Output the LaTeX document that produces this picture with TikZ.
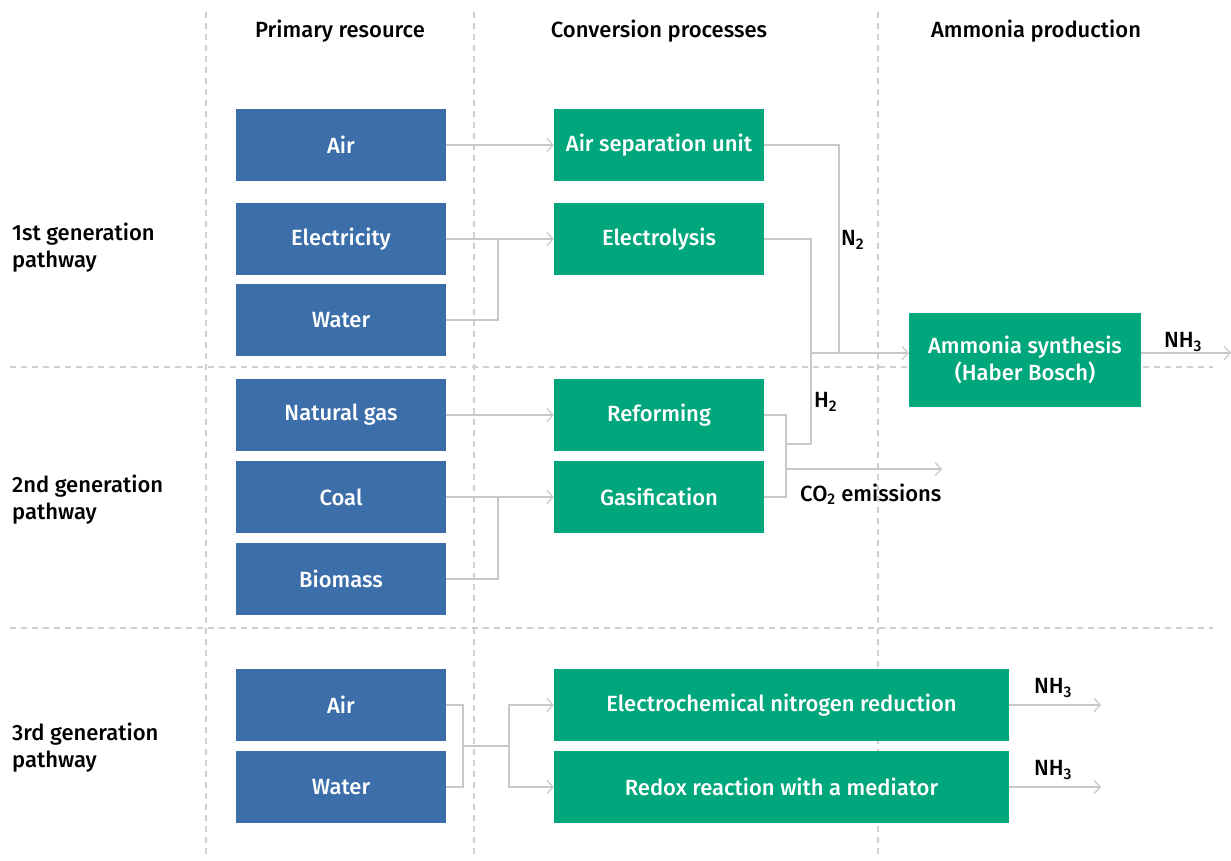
\documentclass[tikz,border=0pt]{standalone}
\usepackage{fontspec}
\setmainfont{Fira Sans}[UprightFont=* Medium]
\usetikzlibrary{arrows.meta}
\definecolor{resblue}{HTML}{3C6EAA}
\definecolor{procgreen}{HTML}{00A67C}
\definecolor{flowgray}{HTML}{C8C8C8}
\definecolor{sepgray}{HTML}{CFCFCF}

\begin{document}
\begin{tikzpicture}[x=1pt, y=-1pt,
  every node/.style={font=\fontsize{22}{27}\selectfont, inner sep=0pt},
  resource/.style={fill=resblue, text=white, minimum width=210pt, minimum height=72pt},
  process/.style={fill=procgreen, text=white, minimum height=72pt},
  flow/.style={draw=flowgray, line width=1.2pt},
  arr/.style={flow, -{Straight Barb[length=6pt,width=13pt]}},
  sepline/.style={draw=sepgray, line width=1.2pt, dash pattern=on 6pt off 5pt},
  pathway/.style={anchor=west, align=left}]
  \fill[white] (0,0) rectangle (1231,861);
  \useasboundingbox (0,0) rectangle (1231,861);

  % column and row separators
  \draw[sepline] (206,12) -- (206,856);
  \draw[sepline] (474,12) -- (474,856);
  \draw[sepline] (878,12) -- (878,856);
  \draw[sepline] (10,367) -- (1213,367);
  \draw[sepline] (10,628) -- (1213,628);

  % headers
  \node[anchor=base] (hres) at (340,38) {Primary resource};
  \node[anchor=base] (hconv) at (659,38) {Conversion processes};
  \node[anchor=base] (hprod) at (1036,38) {Ammonia production};

  \node[pathway] (gen1) at (12,248) {1st generation\\pathway};
  \node[pathway] (gen2) at (12,500) {2nd generation\\pathway};
  \node[pathway] (gen3) at (12,748) {3rd generation\\pathway};

  % primary resources
  \node[resource] (air) at (341,145) {Air};
  \node[resource] (elec) at (341,239) {Electricity};
  \node[resource] (water) at (341,320) {Water};
  \node[resource] (gas) at (341,415) {Natural gas};
  \node[resource] (coal) at (341,497) {Coal};
  \node[resource] (bio) at (341,579) {Biomass};
  \node[resource] (air3) at (341,705) {Air};
  \node[resource] (water3) at (341,787) {Water};

  % conversion processes
  \node[process, minimum width=210pt] (asu) at (659,145) {Air separation unit};
  \node[process, minimum width=210pt] (lysis) at (659,239) {Electrolysis};
  \node[process, minimum width=210pt] (reform) at (659,415) {Reforming};
  \node[process, minimum width=210pt] (gasif) at (659,497) {Gasification};
  \node[process, minimum width=455pt] (enr) at (781.5,705) {Electrochemical nitrogen reduction};
  \node[process, minimum width=455pt] (redox) at (781.5,787) {Redox reaction with a mediator};
  \node[process, minimum width=232pt, minimum height=94pt, align=center] (hb) at (1025,360) {Ammonia synthesis\\(Haber Bosch)};

  % 1st generation
  \coordinate (wj) at (498,239);
  \coordinate (n2j) at (839,353);
  \coordinate (hin) at (811,353);
  \coordinate (h2j) at (811,444);
  \coordinate (nh3end) at (1231,353);
  \draw[arr] (air.east) -- (asu.west);
  \draw[arr] (elec.east) -- (lysis.west);
  \draw[flow] (water.east) -| (wj);
  \draw[flow] (asu.east) -| (n2j);
  \draw[flow] (lysis.east) -| (h2j);
  \draw[arr] (hin) -- (hb.west |- hin);
  \draw[arr] (hb.east |- nh3end) -- (nh3end);
  \node[anchor=west] (n2) at (841,240) {N\textsubscript{2}};
  \node (nh3a) at (1183,342) {NH\textsubscript{3}};

  % 2nd generation
  \coordinate (bj) at (498,497);
  \coordinate (gj) at (786,497);
  \coordinate (rj) at (786,444);
  \coordinate (co2) at (786,469);
  \coordinate (co2end) at (942,469);
  \draw[arr] (gas.east) -- (reform.west);
  \draw[arr] (coal.east) -- (gasif.west);
  \draw[flow] (bio.east) -| (bj);
  \draw[flow] (reform.east) -| (gj) -- (gasif.east);
  \draw[flow] (rj) -- (h2j);
  \draw[arr] (co2) -- (co2end);
  \node[anchor=west] (h2) at (814,402) {H\textsubscript{2}};
  \node[anchor=west] (co2lab) at (800,494) {CO\textsubscript{2} emissions};

  % 3rd generation
  \coordinate (aw) at (463,746);
  \coordinate (sp) at (509,746);
  \coordinate (o1) at (1101,705);
  \coordinate (o2) at (1101,787);
  \draw[flow] (air3.east) -| (aw);
  \draw[flow] (water3.east) -| (aw);
  \draw[flow] (aw) -- (sp);
  \draw[arr] (sp) |- (enr.west);
  \draw[arr] (sp) |- (redox.west);
  \draw[arr] (enr.east) -- (o1);
  \draw[arr] (redox.east) -- (o2);
  \node (nh3b) at (1053,688) {NH\textsubscript{3}};
  \node (nh3c) at (1053,770) {NH\textsubscript{3}};
\end{tikzpicture}
\end{document}
